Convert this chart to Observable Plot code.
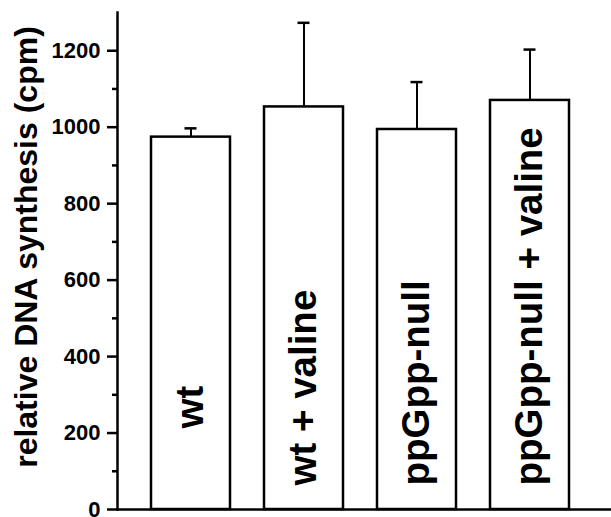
<!DOCTYPE html>
<html>
<head>
<meta charset="utf-8">
<script src="https://cdn.jsdelivr.net/npm/d3@7"></script>
<script src="https://cdn.jsdelivr.net/npm/@observablehq/plot@0.6"></script>
<style>
  html, body { margin: 0; padding: 0; background: #fff; }
  svg { display: block; }
</style>
</head>
<body>
<div id="chart"></div>
<script>
const categories = ["wt", "wt + valine", "ppGpp-null", "ppGpp-null + valine"];
const values = [974, 1053, 994, 1070];
const errorTops = [997, 1273, 1118, 1203];
const majorTicks = [0, 200, 400, 600, 800, 1000, 1200];
const minorTicks = [100, 300, 500, 700, 900, 1100];
const yLabel = "relative DNA synthesis (cpm)";

const data = categories.map((c, i) => ({cat: c, value: values[i], top: errorTops[i]}));
const font = "'Liberation Sans', Arial, Helvetica, sans-serif";
const W = 611, ML = 117;

const chart = Plot.plot({
  width: W,
  height: 517,
  marginLeft: ML,
  marginRight: 0,
  marginTop: 12,
  marginBottom: 8,
  style: {fontFamily: font, background: "#fff", color: "#000", overflow: "visible"},
  x: {domain: categories, padding: 0.3, insetRight: 8, axis: null},
  y: {domain: [0, 1300], axis: null},
  marks: [
    Plot.axisY({ticks: majorTicks, tickSize: 0, tickPadding: 17, tickFormat: d => String(d),
      fontSize: 22, fontWeight: "bold", label: null}),
    Plot.ruleY(majorTicks, {y: d => d, insetLeft: -10, insetRight: W - ML, stroke: "black", strokeWidth: 2.5}),
    Plot.ruleY(minorTicks, {y: d => d, insetLeft: -5, insetRight: W - ML, stroke: "black", strokeWidth: 2.5}),
    Plot.frame({anchor: "left", strokeWidth: 2.5}),
    Plot.ruleX(data, {x: "cat", y1: "value", y2: "top", strokeWidth: 2}),
    Plot.tickY(data, {x: "cat", y: "top", strokeWidth: 2.5, insetLeft: 33.5, insetRight: 33.5}),
    Plot.barY(data, {x: "cat", y: "value", fill: "white", stroke: "black", strokeWidth: 2.5}),
    Plot.ruleY([0], {strokeWidth: 2.5}),
    Plot.text(data.filter(d => d.cat !== "wt"), {x: "cat", y: 0, text: "cat", rotate: -90, textAnchor: "start",
      lineAnchor: "middle", dy: -24, fontSize: 38.5, fontWeight: "bold", fill: "black"}),
    Plot.text(data.filter(d => d.cat === "wt"), {x: "cat", y: 0, text: "cat", rotate: -90, textAnchor: "start",
      lineAnchor: "middle", dy: -81, fontSize: 38.5, fontWeight: "bold", fill: "black"}),
    Plot.text([yLabel], {frameAnchor: "left", text: d => d, rotate: -90, textAnchor: "middle",
      lineAnchor: "middle", dx: -91, dy: -14, fontSize: 32, fontWeight: "bold", fill: "black"})
  ]
});
document.getElementById("chart").appendChild(chart);
</script>
</body>
</html>
